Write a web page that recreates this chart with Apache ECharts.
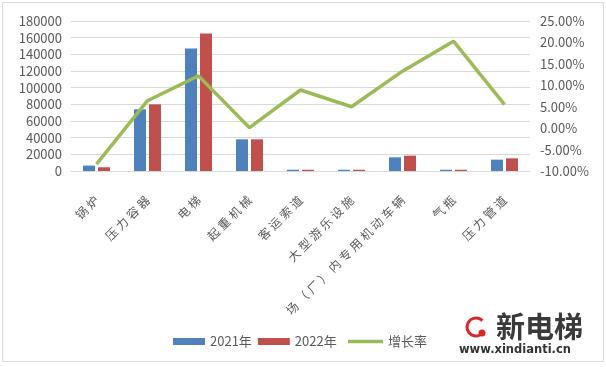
<!DOCTYPE html>
<html><head><meta charset="utf-8">
<script src="https://cdn.jsdelivr.net/npm/echarts@6/dist/echarts.min.js"></script>
<style>html,body{margin:0;padding:0;background:#fff}#c{width:606px;height:367px}</style>
</head><body><div id="c"></div>
<script>
var categories = ['锅炉','压力容器','电梯','起重机械','客运索道','大型游乐设施','场（厂）内专用机动车辆','气瓶','压力管道'];
var values2021 = [6500, 74000, 147000, 38000, 1500, 1500, 16400, 1500, 13600];
var values2022 = [4500, 80000, 165000, 38000, 1500, 1500, 18400, 1500, 15200];
var growthRate = [-8.4, 6.4, 12.2, 0.1, 8.9, 5.0, 13.3, 20.3, 5.5];
var leftTicks = {min: 0, max: 180000, interval: 20000};
var rightTicks = {min: -10, max: 25, interval: 5};

var chart = echarts.init(document.getElementById('c'), null, {renderer: 'canvas'});
var txt = '#595959';
var font = '"Noto Sans CJK SC", "DejaVu Sans", sans-serif';
chart.setOption({
  animation: false,
  textStyle: {fontFamily: font},
  grid: {left: 71, right: 76, top: 21, bottom: 196, containLabel: false},
  legend: [{
    left: 168, top: 330, itemWidth: 32, itemHeight: 7, itemGap: 6,
    textStyle: {color: txt, fontSize: 13, fontFamily: font},
    data: [{name: '2021年', icon: 'rect'}, {name: '2022年', icon: 'rect'}]
  }, {
    left: 343, top: 330, itemWidth: 35, itemHeight: 3.5,
    textStyle: {color: txt, fontSize: 13, fontFamily: font},
    data: [{name: '增长率', icon: 'rect'}]
  }],
  xAxis: {
    type: 'category', data: categories,
    axisLine: {lineStyle: {color: '#D9D9D9'}},
    axisTick: {show: false},
    axisLabel: {rotate: 45, interval: 0, color: txt, fontSize: 12, margin: 27, fontFamily: font,
      formatter: function (v) { return v.split('').join('\u2005'); }}
  },
  yAxis: [{
    type: 'value', min: leftTicks.min, max: leftTicks.max, interval: leftTicks.interval,
    axisLine: {show: false}, axisTick: {show: false},
    splitLine: {lineStyle: {color: '#D9D9D9'}},
    axisLabel: {color: txt, fontSize: 13, margin: 9, fontFamily: font,
      formatter: function (v) { return String(v); }}
  }, {
    type: 'value', min: rightTicks.min, max: rightTicks.max, interval: rightTicks.interval,
    axisLine: {show: false}, axisTick: {show: false}, splitLine: {show: false},
    axisLabel: {color: txt, fontSize: 13, margin: 10, fontFamily: font,
      formatter: function (v) { return v.toFixed(2) + '%'; }}
  }],
  series: [{
    name: '2021年', type: 'bar', data: values2021, barWidth: 12, barGap: '25%',
    itemStyle: {color: '#4F81BD'}
  }, {
    name: '2022年', type: 'bar', data: values2022, barWidth: 12,
    itemStyle: {color: '#C0504D'}
  }, {
    name: '增长率', type: 'line', yAxisIndex: 1, data: growthRate,
    symbol: 'none', lineStyle: {color: '#9BBB59', width: 3.5}, itemStyle: {color: '#9BBB59'}
  }],
  graphic: [
    {type: 'rect', shape: {x: 2.5, y: 2.5, width: 601, height: 359}, style: {fill: 'none', stroke: '#D9D9D9', lineWidth: 1}, silent: true},
    {type: 'text', left: 495, top: 311, style: {text: '新电梯', font: 'bold 29px "Noto Sans CJK SC"', fill: '#3a3a3a', stroke: '#fff', lineWidth: 2}},
    {type: 'text', left: 459, top: 344, style: {text: 'www.xindianti.cn', font: 'bold 11.5px "DejaVu Sans"', fill: '#333'}},
    {type: 'arc', shape: {cx: 476, cy: 327, r: 9, startAngle: 0.5, endAngle: 5.5}, style: {stroke: '#D9262B', lineWidth: 3, fill: 'none'}},
    {type: 'circle', shape: {cx: 482, cy: 333, r: 3.5}, style: {fill: '#D9262B'}}
  ]
});
</script></body></html>
